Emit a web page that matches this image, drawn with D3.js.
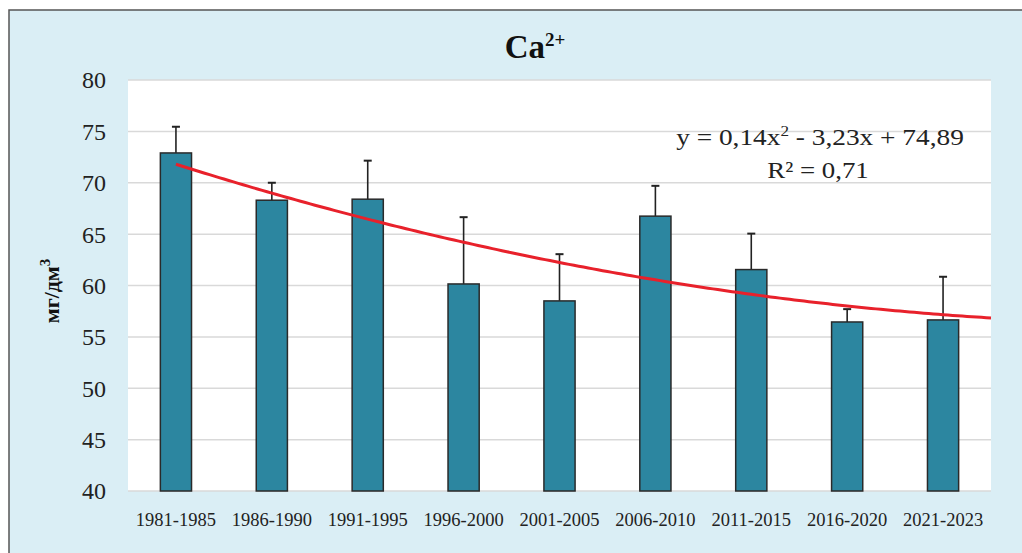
<!DOCTYPE html>
<html>
<head>
<meta charset="utf-8">
<script src="https://cdn.jsdelivr.net/npm/d3@7"></script>
<style>
  body { margin: 0; background: #fff; }
  svg { display: block; font-family: "Liberation Serif", "Times New Roman", serif; }
</style>
</head>
<body>
<div id="chart"></div>
<script>
var W = 1022, H = 553;
var margin = {top: 80, right: 31, bottom: 62, left: 128},
  width = W - margin.left - margin.right,
  height = H - margin.top - margin.bottom;

// periods and mean values (mg/dm3), with upper error
var periods = ["1981-1985", "1986-1990", "1991-1995", "1996-2000", "2001-2005", "2006-2010", "2011-2015", "2016-2020", "2021-2023"];
var means = [72.9, 68.3, 68.4, 60.15, 58.5, 66.75, 61.55, 56.45, 56.65];
var upper = [75.45, 70.0, 72.15, 66.65, 63.05, 69.7, 65.05, 57.7, 60.85];
var yTicks = [40, 45, 50, 55, 60, 65, 70, 75, 80];
// polynomial trend from the chart: y = 0,14x^2 - 3,23x + 74,89
var trendCoef = [0.14, -3.23, 74.89];

var svg = d3.select("#chart").append("svg")
  .attr("width", W)
  .attr("height", H);

// chart area background + border
svg.append("rect")
  .attr("x", 9).attr("y", 10)
  .attr("width", W + 20).attr("height", H + 20)
  .attr("fill", "#daeef5")
  .attr("stroke", "#555")
  .attr("stroke-width", 1.5);

var g = svg.append("g")
  .attr("transform", "translate(" + margin.left + "," + margin.top + ")");

g.append("rect")
  .attr("width", width).attr("height", height)
  .attr("fill", "#fff");

var x = d3.scaleBand()
  .domain(periods)
  .range([0, width])
  .paddingInner(0.675)
  .paddingOuter(0.3375);

var y = d3.scaleLinear()
  .domain([40, 80])
  .range([height, 0]);

// gridlines
g.selectAll(".grid")
  .data(yTicks)
  .join("line")
  .attr("class", "grid")
  .attr("x1", 0).attr("x2", width)
  .attr("y1", d => y(d)).attr("y2", d => y(d))
  .attr("stroke", "#d9d9d9")
  .attr("stroke-width", 1.5);

// y tick labels
g.selectAll(".ytick")
  .data(yTicks)
  .join("text")
  .attr("class", "ytick")
  .attr("x", -22)
  .attr("y", d => y(d))
  .attr("dy", "0.35em")
  .attr("text-anchor", "end")
  .style("font-size", "24px")
  .attr("fill", "#222")
  .text(d => d);

// x labels
g.selectAll(".xtick")
  .data(periods)
  .join("text")
  .attr("class", "xtick")
  .attr("x", d => x(d) + x.bandwidth() / 2)
  .attr("y", height + 35)
  .attr("text-anchor", "middle")
  .style("font-size", "18.5px")
  .attr("fill", "#222")
  .text(d => d);

// error bars (upper only)
var cx = (d) => x(d) + x.bandwidth() / 2;
g.selectAll(".err")
  .data(periods)
  .join("line")
  .attr("class", "err")
  .attr("x1", d => cx(d)).attr("x2", d => cx(d))
  .attr("y1", (d, i) => y(means[i]))
  .attr("y2", (d, i) => y(upper[i]))
  .attr("stroke", "#222")
  .attr("stroke-width", 1.6);

g.selectAll(".cap")
  .data(periods)
  .join("line")
  .attr("class", "cap")
  .attr("x1", d => cx(d) - 4).attr("x2", d => cx(d) + 4)
  .attr("y1", (d, i) => y(upper[i]))
  .attr("y2", (d, i) => y(upper[i]))
  .attr("stroke", "#222")
  .attr("stroke-width", 2);

// bars
g.selectAll(".bar")
  .data(periods)
  .join("rect")
  .attr("class", "bar")
  .attr("x", d => x(d))
  .attr("width", x.bandwidth())
  .attr("y", (d, i) => y(means[i]))
  .attr("height", (d, i) => y(40) - y(means[i]))
  .attr("fill", "#2c86a0")
  .attr("stroke", "#2a2a2a")
  .attr("stroke-width", 1.5);

// trend line, from first bar to the end of the plot (forward 0.5 period)
var xIdx = d3.scaleLinear()
  .domain([1, periods.length])
  .range([cx(periods[0]), cx(periods[periods.length - 1])]);
var xEnd = xIdx.invert(width);
var trendPts = d3.range(1, xEnd, 0.05).concat([xEnd]).map(function(t) {
  return [xIdx(t), y(trendCoef[0] * t * t + trendCoef[1] * t + trendCoef[2])];
});
g.append("path")
  .datum(trendPts)
  .attr("fill", "none")
  .attr("stroke", "#e8212b")
  .attr("stroke-width", 3)
  .attr("d", d3.line());

// trend equation (slightly widened like the original)
var eq = svg.append("text")
  .attr("transform", "translate(820,145) scale(1.14,1)")
  .attr("text-anchor", "middle")
  .style("font-size", "24px")
  .attr("fill", "#222");
eq.append("tspan").text("y = 0,14x");
eq.append("tspan").attr("dy", -9).style("font-size", "15px").text("2");
eq.append("tspan").attr("dy", 9).text(" - 3,23x + 74,89");

svg.append("text")
  .attr("transform", "translate(818,178) scale(1.12,1)")
  .attr("text-anchor", "middle")
  .style("font-size", "24px")
  .attr("fill", "#222")
  .text("R² = 0,71");

// title
var title = svg.append("text")
  .attr("x", 535)
  .attr("y", 58)
  .attr("text-anchor", "middle")
  .style("font-size", "33px")
  .style("font-weight", "bold")
  .attr("fill", "#111");
title.append("tspan").text("Ca");
title.append("tspan").attr("dy", -12).style("font-size", "19px").text("2+");

// y axis label
var yl = svg.append("text")
  .attr("transform", "translate(59,291) rotate(-90)")
  .attr("text-anchor", "middle")
  .style("font-size", "22px")
  .style("font-weight", "bold")
  .attr("fill", "#111");
yl.append("tspan").text("мг/дм");
yl.append("tspan").attr("dy", -9).style("font-size", "15px").text("3");
</script>
</body>
</html>
